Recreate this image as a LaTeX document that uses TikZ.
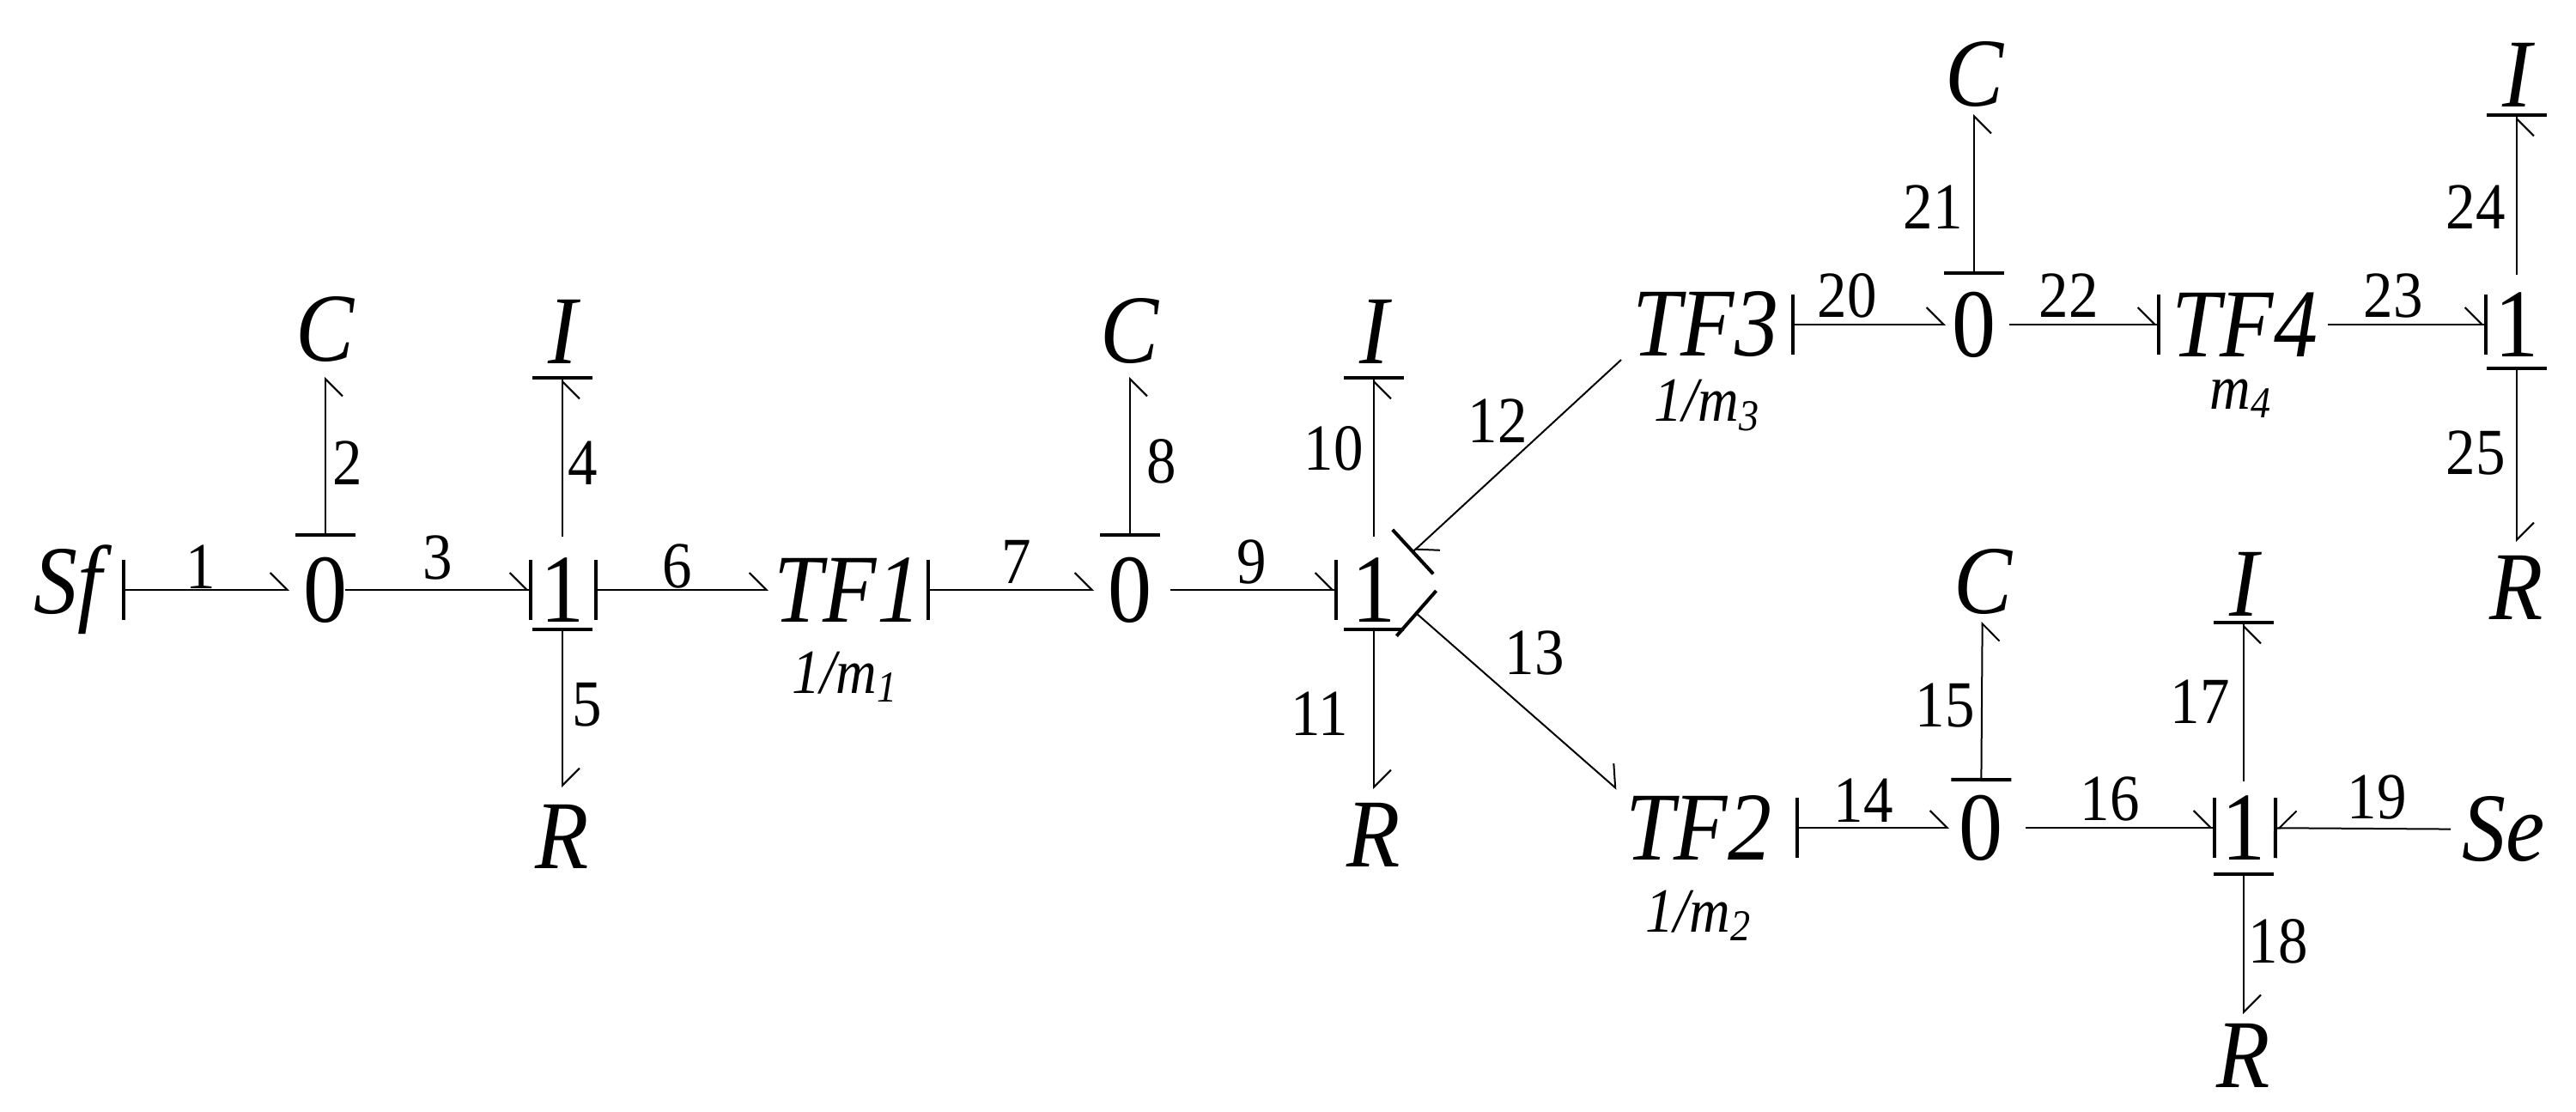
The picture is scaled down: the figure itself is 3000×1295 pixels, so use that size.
\documentclass[tikz,border=0pt]{standalone}
\usepackage{fontspec}
\setmainfont{Liberation Serif}[FakeStretch=0.9]
\usetikzlibrary{arrows.meta}
\begin{document}
\begin{tikzpicture}[x=0.3pt,y=-0.3pt,
  el/.style={inner sep=0pt,font=\fontsize{34}{36}\selectfont\itshape},
  jn/.style={inner sep=0pt,font=\fontsize{34}{36}\selectfont},
  lab/.style={inner sep=0pt,font=\fontsize{23}{24}\selectfont},
  par/.style={inner sep=0pt,font=\fontsize{22}{24}\selectfont\itshape},
  bond/.style={line width=0.6pt},
  hb/.tip={Straight Barb[harpoon,length=6pt,width=12pt,sep=0pt]},
  hs/.tip={Straight Barb[harpoon,swap,length=6pt,width=12pt,sep=0pt]},
  cs/.tip={Bar[width=21pt,line width=1.2pt]},
  hbc/.tip={Straight Barb[harpoon,length=6pt,width=12pt,sep=0pt]Bar[width=21pt,line width=1.2pt]},
  hsc/.tip={Straight Barb[harpoon,swap,length=6pt,width=12pt,sep=0pt]Bar[width=21pt,line width=1.2pt]},
  sh/.style 2 args={shorten <=#1*0.3pt,shorten >=#2*0.3pt}]
\useasboundingbox (0,0) rectangle (3000,1295);
% elements
\node[el] (Sf) at (79,687) {Sf};
\node[jn] (z1) at (379,687) {0};
\node[el] (C1) at (379,384) {C};
\node[jn] (o1) at (655,687) {1};
\node[el] (I1) at (655,386) {I};
\node[el] (R1) at (655,974) {R};
\node[el] (TF1) at (987,687) {TF1};
\node[par] (m1) at (984,788) {1/m\textsubscript{1}};
\node[jn] (z2) at (1316,687) {0};
\node[el] (C2) at (1316,386) {C};
\node[jn] (o2) at (1600,687) {1};
\node[el] (I2) at (1600,386) {I};
\node[el] (R2) at (1600,972) {R};
\node[el] (TF3) at (1986,378) {TF3};
\node[par] (m3) at (1988,472) {1/m\textsubscript{3}};
\node[jn] (z3) at (2299,378) {0};
\node[el] (C3) at (2299,87) {C};
\node[el] (TF4) at (2614,378) {TF4};
\node[par] (m4) at (2610,464) {m\textsubscript{4}};
\node[jn] (o3) at (2931,378) {1};
\node[el] (I3) at (2931,87) {I};
\node[el] (R3) at (2931,684) {R};
\node[el] (TF2) at (1978,964) {TF2};
\node[par] (m2) at (1978,1066) {1/m\textsubscript{2}};
\node[jn] (z4) at (2307,964) {0};
\node[el] (C4) at (2309,678) {C};
\node[jn] (o4) at (2613,964) {1};
\node[el] (I4) at (2613,680) {I};
\node[el] (R4) at (2613,1229) {R};
\node[el] (Se) at (2916,966) {Se};
% bonds
\draw[bond,{cs}-{hb},sh={63}{42}] (Sf.center) -- (z1.center);
\draw[bond,{cs}-{hs},sh={62}{55}] (z1.center) -- (C1.center);
\draw[bond,-{hbc},sh={23}{35}] (z1.center) -- (o1.center);
\draw[bond,-{hsc},sh={62}{52}] (o1.center) -- (I1.center);
\draw[bond,{cs}-{hb},sh={44}{57}] (o1.center) -- (R1.center);
\draw[bond,{cs}-{hb},sh={37}{92}] (o1.center) -- (TF1.center);
\draw[bond,{cs}-{hb},sh={92}{42}] (TF1.center) -- (z2.center);
\draw[bond,{cs}-{hs},sh={62}{53}] (z2.center) -- (C2.center);
\draw[bond,-{hbc},sh={47}{42}] (z2.center) -- (o2.center);
\draw[bond,-{hsc},sh={62}{52}] (o2.center) -- (I2.center);
\draw[bond,{cs}-{hb},sh={44}{53}] (o2.center) -- (R2.center);
\draw[bond,-{hbc}] ([shift={(-98,41)}]TF3.center) -- ([shift={(44,-43)}]o2.center);
\draw[bond,{cs}-{hb}] ([shift={(48,26)}]o2.center) -- ([shift={(-95,-45)}]TF2.center);
\draw[bond,{cs}-{hb},sh={113}{37}] (TF2.center) -- (z4.center);
\draw[bond,{cs}-{hs},sh={54}{46}] (z4.center) -- (C4.center);
\draw[bond,-{hbc},sh={52}{32}] (z4.center) -- (o4.center);
\draw[bond,-{hsc},sh={54}{43}] (o4.center) -- (I4.center);
\draw[bond,{cs}-{hb},sh={52}{48}] (o4.center) -- (R4.center);
\draw[bond,-{hsc},sh={62}{35}] (Se.center) -- (o4.center);
\draw[bond,{cs}-{hb},sh={100}{33}] (TF3.center) -- (z3.center);
\draw[bond,{cs}-{hs},sh={58}{46}] (z3.center) -- (C3.center);
\draw[bond,-{hbc},sh={41}{98}] (z3.center) -- (TF4.center);
\draw[bond,-{hbc},sh={97}{34}] (TF4.center) -- (o3.center);
\draw[bond,-{hsc},sh={58}{45}] (o3.center) -- (I3.center);
\draw[bond,{cs}-{hb},sh={49}{53}] (o3.center) -- (R3.center);
% bond numbers
\node[lab] (l1) at (234,660) {1};
\node[lab] (l2) at (405,539) {2};
\node[lab] (l3) at (510,649) {3};
\node[lab] (l4) at (679,539) {4};
\node[lab] (l5) at (684,821) {5};
\node[lab] (l6) at (789,659) {6};
\node[lab] (l7) at (1184,654) {7};
\node[lab] (l8) at (1353,537) {8};
\node[lab] (l9) at (1458,654) {9};
\node[lab] (l10) at (1553,522) {10};
\node[lab] (l11) at (1537,831) {11};
\node[lab] (l12) at (1744,490) {12};
\node[lab] (l13) at (1787,760) {13};
\node[lab] (l14) at (2170,932) {14};
\node[lab] (l15) at (2265,822) {15};
\node[lab] (l16) at (2457,930) {16};
\node[lab] (l17) at (2562,817) {17};
\node[lab] (l18) at (2653,1096) {18};
\node[lab] (l19) at (2768,928) {19};
\node[lab] (l20) at (2151,344) {20};
\node[lab] (l21) at (2251,241) {21};
\node[lab] (l22) at (2409,344) {22};
\node[lab] (l23) at (2787,344) {23};
\node[lab] (l24) at (2883,241) {24};
\node[lab] (l25) at (2883,527) {25};
\end{tikzpicture}
\end{document}
